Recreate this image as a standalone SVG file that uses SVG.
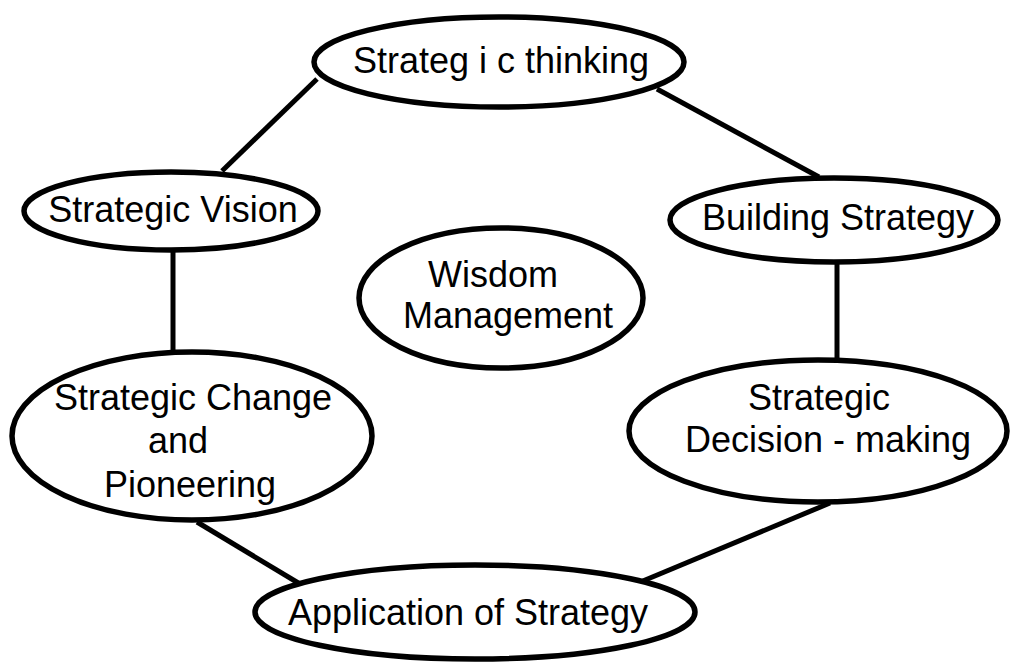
<svg xmlns="http://www.w3.org/2000/svg" width="1010" height="665" viewBox="0 0 1010 665">
<style>
.n ellipse{fill:#fff;stroke:#000;stroke-width:5.5}
.c line{stroke:#000;stroke-width:5}
text{font-family:"Liberation Sans",Arial,sans-serif;font-size:36px;fill:#000;text-anchor:middle}
</style>
<rect width="1010" height="665" fill="#fff"/>
<g class="c" id="connectors">
<line x1="317" y1="79" x2="222" y2="171"/>
<line x1="657" y1="89" x2="819" y2="177"/>
<line x1="173" y1="252" x2="173" y2="352"/>
<line x1="837" y1="262" x2="837" y2="361"/>
<line x1="197" y1="522" x2="300" y2="584"/>
<line x1="830" y1="503" x2="638" y2="583"/>
</g>
<g class="n" id="strategic-thinking">
<ellipse cx="499" cy="62" rx="185" ry="45"/>
<text x="501" y="73">Strateg i c thinking</text>
</g>
<g class="n" id="strategic-vision">
<ellipse cx="171" cy="211" rx="147" ry="39"/>
<text x="173" y="222">Strategic Vision</text>
</g>
<g class="n" id="building-strategy">
<ellipse cx="834" cy="220" rx="164" ry="42"/>
<text x="838" y="230">Building Strategy</text>
</g>
<g class="n" id="wisdom-management">
<ellipse cx="501" cy="298" rx="142" ry="70"/>
<text x="493" y="287">Wisdom</text>
<text x="508" y="328">Management</text>
</g>
<g class="n" id="strategic-change">
<ellipse cx="192" cy="436" rx="180" ry="84"/>
<text x="193" y="410">Strategic Change</text>
<text x="178" y="453">and</text>
<text x="190" y="497">Pioneering</text>
</g>
<g class="n" id="strategic-decision">
<ellipse cx="818" cy="431" rx="189" ry="71"/>
<text x="819" y="410">Strategic</text>
<text x="828" y="452">Decision - making</text>
</g>
<g class="n" id="application">
<ellipse cx="475" cy="612" rx="220" ry="47"/>
<text x="468" y="625">Application of Strategy</text>
</g>
</svg>
